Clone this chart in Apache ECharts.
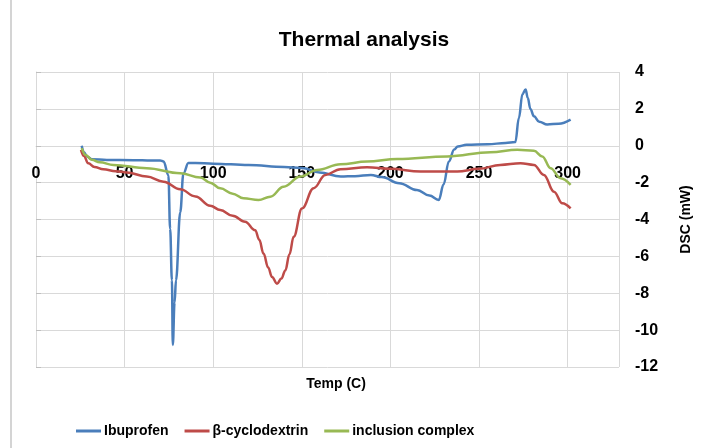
<!DOCTYPE html>
<html>
<head>
<meta charset="utf-8">
<script src="https://cdn.jsdelivr.net/npm/echarts@6/dist/echarts.min.js"></script>
<style>
  html, body { margin: 0; padding: 0; background: #fff; }
  #chart { width: 704px; height: 448px; }
</style>
</head>
<body>
<div id="chart"></div>
<script>
// series names
var seriesNames = ['Ibuprofen', 'β-cyclodextrin', 'inclusion complex'];

// [temperature, DSC]
var ibuprofen = [
  [25.8, 0], [27, -0.35], [29, -0.6], [31.5, -0.73], [40, -0.77], [55, -0.78], [65, -0.8],
  [70, -0.8], [72, -0.85], [74.7, -1.6], [75.7, -4.5], [76.7, -7.3], [77.2, -10.8],
  [78.2, -8.5], [79, -7.3], [81.4, -3.6], [83.2, -1.5], [86, -0.94], [90, -0.93],
  [100, -0.97], [120, -1.05], [140, -1.15], [150, -1.2], [160, -1.45], [172, -1.67],
  [180, -1.65], [189, -1.58], [195, -1.7], [205, -2.03], [215, -2.4], [222, -2.7],
  [227.3, -2.94], [230, -2.1], [233, -0.85], [236, -0.2], [238, -0.04], [243, 0.05],
  [255, 0.08], [265, 0.15], [270.5, 0.2], [272.5, 1.5], [274.5, 2.8], [276.3, 3.05],
  [277.5, 2.6], [279, 2.0], [281, 1.6], [284, 1.3], [288.5, 1.15], [295, 1.2], [301.7, 1.42]
];
var cyclodextrin = [
  [25.4, -0.22], [27, -0.55], [29.5, -0.95], [33, -1.15], [38, -1.27], [45, -1.38],
  [51.2, -1.45], [62.5, -1.67], [72, -1.95], [81.4, -2.36], [90, -2.75], [98.3, -3.25],
  [104, -3.49], [111, -3.8], [118, -4.12], [123.7, -4.58], [126, -5.1], [128.4, -5.85],
  [131, -6.6], [133.2, -7.12], [136, -7.48], [138.5, -7.2], [140.7, -6.76], [143, -5.9],
  [145.4, -4.94], [150.1, -3.4], [156.7, -2.3], [163.3, -1.58], [171.8, -1.27],
  [186.8, -1.16], [200, -1.25], [217, -1.4], [237.7, -1.4], [250, -1.25], [262, -1.04],
  [273.4, -0.95], [281, -1.04], [286.6, -1.58], [292.3, -2.49], [297, -3.12], [301.7, -3.4]
];
var inclusion = [
  [25.8, -0.13], [28, -0.5], [31.5, -0.76], [36, -0.9], [43.7, -1.04], [62.5, -1.22],
  [81.4, -1.49], [92.7, -1.72], [98.3, -2.0], [104, -2.31], [111, -2.6], [117.1, -2.85],
  [125.6, -2.94], [132.2, -2.76], [139.7, -2.22], [149.2, -1.67], [158.6, -1.31],
  [171.8, -1.0], [186.8, -0.86], [203.8, -0.72], [232, -0.58], [256.5, -0.35],
  [271.6, -0.22], [281, -0.27], [285.7, -0.58], [290.4, -1.22], [296, -1.76], [301.7, -2.12]
];

var colors = ['#4a7ebb', '#be4b48', '#98b954'];
var font = "'Liberation Sans', Arial, sans-serif";

var chart = echarts.init(document.getElementById('chart'));

function lineSeries(name, data, color) {
  return {
    name: name,
    type: 'line',
    data: data,
    showSymbol: false,
    smooth: 0.4,
    smoothMonotone: 'x',
    lineStyle: { color: color, width: 2.5 },
    itemStyle: { color: color }
  };
}

chart.setOption({
  animation: false,
  title: [
    {
      text: 'Thermal analysis',
      left: 359, top: 25, textAlign: 'center',
      textStyle: { fontFamily: font, fontSize: 21, fontWeight: 'bold', color: '#000' }
    },
    {
      text: 'Temp (C)',
      left: 331, top: 372, textAlign: 'center',
      textStyle: { fontFamily: font, fontSize: 14, fontWeight: 'bold', color: '#000' }
    }
  ],
  legend: {
    data: seriesNames,
    left: 71, top: 419,
    icon: 'rect', itemWidth: 25, itemHeight: 3, itemGap: 16,
    textStyle: { fontFamily: font, fontSize: 14, fontWeight: 'bold', color: '#000', padding: [0, 0, 0, -2] }
  },
  grid: { left: 36, right: 85, top: 72, bottom: 81, containLabel: false },
  xAxis: {
    type: 'value', min: 0, max: 329, interval: 50,
    position: 'bottom', offset: -221,
    axisLine: { onZero: false, lineStyle: { color: '#d9d9d9', width: 1 } },
    axisTick: { show: false },
    axisLabel: {
      margin: 20, showMaxLabel: false,
      fontFamily: font, fontSize: 16, fontWeight: 'bold', color: '#000'
    },
    splitLine: { show: true, lineStyle: { color: '#d9d9d9', width: 1 } }
  },
  yAxis: {
    type: 'value', position: 'right', min: -12, max: 4, interval: 2,
    name: 'DSC (mW)', nameLocation: 'middle', nameRotate: 90, nameGap: 60,
    nameTextStyle: { fontFamily: font, fontSize: 14, fontWeight: 'bold', color: '#000' },
    axisLine: { show: true, lineStyle: { color: '#d9d9d9', width: 1 } },
    axisTick: { show: true, inside: false, length: 5, lineStyle: { color: '#bfbfbf' } },
    axisLabel: { margin: 16, fontFamily: font, fontSize: 16, fontWeight: 'bold', color: '#000' },
    splitLine: { show: true, lineStyle: { color: '#d9d9d9', width: 1 } }
  },
  graphic: [
    { type: 'line', shape: { x1: 11, y1: 0, x2: 11, y2: 448 }, style: { stroke: '#d4d4d4', lineWidth: 2 } }
  ],
  series: [
    lineSeries(seriesNames[0], ibuprofen, colors[0]),
    lineSeries(seriesNames[1], cyclodextrin, colors[1]),
    lineSeries(seriesNames[2], inclusion, colors[2])
  ]
});
</script>
</body>
</html>
